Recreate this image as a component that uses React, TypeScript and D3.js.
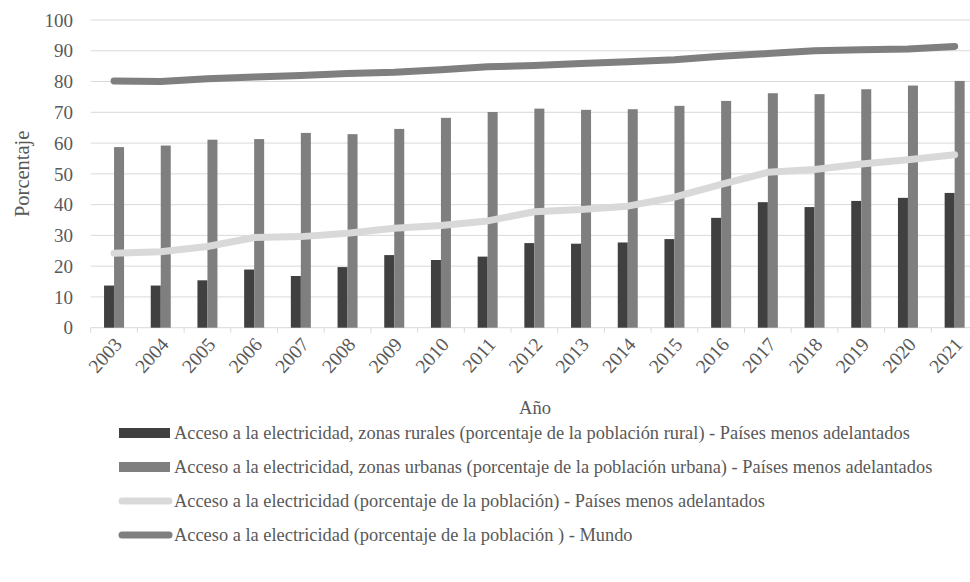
import React from "react";
import * as d3 from "d3";

const years = ["2003","2004","2005","2006","2007","2008","2009","2010","2011","2012","2013","2014","2015","2016","2017","2018","2019","2020","2021"];
const rural = [13.7,13.7,15.4,18.9,16.8,19.7,23.6,22.0,23.1,27.5,27.3,27.7,28.8,35.7,40.8,39.2,41.2,42.2,43.8];
const urban = [58.7,59.2,61.1,61.3,63.3,62.9,64.6,68.2,70.1,71.2,70.8,71.0,72.1,73.7,76.2,75.9,77.5,78.7,80.2];
const totalLDC = [24.2,24.7,26.4,29.3,29.6,30.7,32.3,33.2,34.7,37.7,38.4,39.5,42.4,46.6,50.5,51.4,53.2,54.6,56.2];
const world = [80.2,80.0,80.9,81.5,82.0,82.6,83.0,83.8,84.8,85.2,85.9,86.4,87.1,88.2,89.1,90.0,90.3,90.6,91.4];
const yTicks = [0,10,20,30,40,50,60,70,80,90,100];
const legendLabels = [
  "Acceso a la electricidad, zonas rurales (porcentaje de la población rural) - Países menos adelantados",
  "Acceso a la electricidad, zonas urbanas (porcentaje de la población urbana) - Países menos adelantados",
  "Acceso a la electricidad (porcentaje de la población) - Países menos adelantados",
  "Acceso a la electricidad (porcentaje de la población ) - Mundo",
];
const colors = ["#404040", "#7f7f7f", "#d9d9d9", "#7f7f7f"];

const W = 970, H = 582;
const left = 90.7, right = 978, top = 20, bottom = 327.7;
const FONT = "Liberation Serif";
const TXT = "#595959";

export default function App() {
  const x = d3.scaleBand().domain(years).range([left, right]).padding(0);
  const y = d3.scaleLinear().domain([0, 100]).range([bottom, top]);
  const sub = d3.scaleBand().domain(["r", "u"]).range([-10, 10]).padding(0);
  const cx = (yr: string) => (x(yr) as number) + x.bandwidth() / 2;
  const line = d3.line<number>().x((_, i) => cx(years[i])).y((d) => y(d));
  const ts = { fontFamily: FONT };
  return (
    <svg width={W} height={H} style={{ position: "absolute", left: 0, top: 0, background: "#fff", fontFamily: FONT }}>
      {yTicks.map((t) => (
        <g key={t}>
          <line x1={left} x2={right} y1={y(t)} y2={y(t)} stroke="#d9d9d9" strokeWidth={1} />
          <text style={ts} x={73} y={y(t)} dy="0.35em" textAnchor="end" fontSize={19} fill={TXT}>{t}</text>
        </g>
      ))}
      {years.map((yr) => (
        <line key={"tk" + yr} x1={x(yr) as number} x2={x(yr) as number} y1={bottom} y2={bottom + 5} stroke="#d9d9d9" />
      ))}
      {years.map((yr, i) => (
        <g key={"b" + yr}>
          <rect x={cx(yr) + (sub("r") as number)} width={sub.bandwidth()} y={y(rural[i])} height={bottom - y(rural[i])} fill={colors[0]} />
          <rect x={cx(yr) + (sub("u") as number)} width={sub.bandwidth()} y={y(urban[i])} height={bottom - y(urban[i])} fill={colors[1]} />
        </g>
      ))}
      <path d={line(totalLDC) || ""} fill="none" stroke={colors[2]} strokeWidth={7} strokeLinecap="round" strokeLinejoin="round" />
      <path d={line(world) || ""} fill="none" stroke={colors[3]} strokeWidth={7} strokeLinecap="round" strokeLinejoin="round" />
      {years.map((yr) => (
        <text style={ts} key={"xl" + yr} transform={`translate(${cx(yr) + 4},${bottom + 13}) rotate(-48)`} textAnchor="end" dy="0.35em" fontSize={19.5} fill={TXT}>{yr}</text>
      ))}
      <text style={ts} x={535} y={414} textAnchor="middle" fontSize={18.5} fill={TXT}>Año</text>
      <text style={ts} transform={`translate(29,${(top + bottom) / 2}) rotate(-90)`} textAnchor="middle" fontSize={20.5} fill={TXT}>Porcentaje</text>
      {legendLabels.map((lab, i) => {
        const ly = 433 + i * 34;
        return (
          <g key={"lg" + i}>
            {i < 2 ? (
              <rect x={119} y={ly - 5} width={51} height={10} fill={colors[i]} />
            ) : (
              <line x1={122} x2={169} y1={ly} y2={ly} stroke={colors[i]} strokeWidth={7} strokeLinecap="round" />
            )}
            <text style={ts} x={174} y={ly} dy="0.35em" fontSize={18.4} fill={TXT}>{lab}</text>
          </g>
        );
      })}
    </svg>
  );
}
